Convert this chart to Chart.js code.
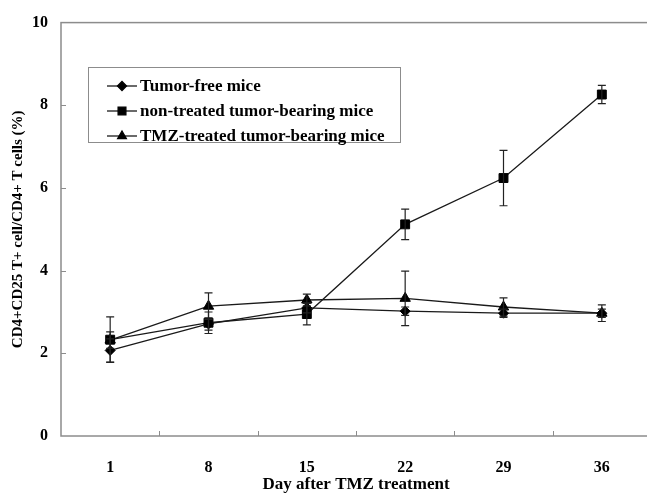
<!DOCTYPE html>
<html>
<head>
<meta charset="utf-8">
<script src="https://cdn.jsdelivr.net/npm/chart.js@4/dist/chart.umd.min.js"></script>
<style>
html,body{margin:0;padding:0;background:#fff;overflow:hidden;}
#wrap{width:660px;height:495px;}
</style>
</head>
<body>
<div id="wrap"><canvas id="c" width="660" height="495"></canvas></div>
<script>
const days = ['1','8','15','22','29','36'];
const yTicks = [0,2,4,6,8,10];
const tumorFree = [2.07, 2.71, 3.10, 3.02, 2.97, 2.97];
const tumorFreeErr = [0.28, 0.15, 0.12, 0.10, 0.10, 0.10];
const nonTreated = [2.33, 2.74, 2.95, 5.12, 6.24, 8.26];
const nonTreatedErr = [0.55, 0.26, 0.26, 0.37, 0.67, 0.22];
const tmzTreated = [2.32, 3.14, 3.29, 3.33, 3.12, 2.97];
const tmzTreatedErr = [0.20, 0.32, 0.14, 0.66, 0.22, 0.20];
const labels = ['Tumor-free mice','non-treated tumor-bearing mice','TMZ-treated tumor-bearing mice'];

const FONT = '"Liberation Serif","Times New Roman",serif';
const AXIS = '#8c8c8c';
const INK = '#1a1a1a';

const errPlugin = {
  id:'err',
  afterDatasetsDraw(chart){
    const ctx = chart.ctx, ys = chart.scales.y;
    ctx.save();
    ctx.strokeStyle = '#222'; ctx.lineWidth = 1.2;
    chart.data.datasets.forEach((ds, di) => {
      const meta = chart.getDatasetMeta(di);
      ds.errors.forEach((e, i) => {
        const p = meta.data[i]; if(!p) return;
        const v = ds.data[i];
        const y1 = ys.getPixelForValue(v + e), y2 = ys.getPixelForValue(v - e);
        const x = p.x, c = 4;
        ctx.beginPath();
        ctx.moveTo(x, y1); ctx.lineTo(x, y2);
        ctx.moveTo(x - c, y1); ctx.lineTo(x + c, y1);
        ctx.moveTo(x - c, y2); ctx.lineTo(x + c, y2);
        ctx.stroke();
      });
    });
    ctx.restore();
  }
};

const framePlugin = {
  id:'frame',
  afterDraw(chart){
    const ctx = chart.ctx, a = chart.chartArea, xs = chart.scales.x, ys = chart.scales.y;
    ctx.save();
    ctx.strokeStyle = AXIS; ctx.lineWidth = 1.5;
    ctx.strokeRect(a.left, a.top, a.right - a.left, a.bottom - a.top);
    ctx.lineWidth = 1;
    ctx.beginPath();
    yTicks.forEach(t => {
      if (t === 0 || t === 10) return;
      const y = Math.round(ys.getPixelForValue(t)) + 0.5;
      ctx.moveTo(a.left, y); ctx.lineTo(a.left + 5, y);
    });
    for (let i = 0; i < days.length - 1; i++) {
      const x = Math.round((xs.getPixelForTick(i) + xs.getPixelForTick(i + 1)) / 2) + 0.5;
      ctx.moveTo(x, a.bottom); ctx.lineTo(x, a.bottom - 5);
    }
    ctx.stroke();

    // legend box
    const bx = 88, by = 67, bw = 312, bh = 75;
    ctx.strokeStyle = '#8c8c8c'; ctx.lineWidth = 1;
    ctx.strokeRect(bx + 0.5, by + 0.5, bw, bh);
    ctx.font = 'bold 17px ' + FONT;
    ctx.textBaseline = 'middle';
    ctx.textAlign = 'left';
    const rows = [86, 111, 136];
    chart.data.datasets.forEach((ds, i) => {
      const y = rows[i];
      ctx.strokeStyle = INK; ctx.lineWidth = 1.3;
      ctx.beginPath(); ctx.moveTo(107, y); ctx.lineTo(137, y); ctx.stroke();
      ctx.fillStyle = '#000'; ctx.strokeStyle = '#000';
      Chart.helpers.drawPoint(ctx, {pointStyle: ds.pointStyle, radius: ds.legendRadius, rotation: 0, borderWidth: 1}, 122, y);
      ctx.fillStyle = '#000';
      ctx.fillText(ds.label, 140, y + 1);
    });
    ctx.restore();
  }
};

const mk = (label, data, errors, style, r, lr) => ({
  label, data, errors,
  borderColor: INK, borderWidth: 1.3,
  pointStyle: style, pointRadius: r, pointHoverRadius: r,
  pointBackgroundColor: '#000', pointBorderColor: '#000', pointBorderWidth: 1,
  legendRadius: lr, tension: 0, fill: false
});

new Chart(document.getElementById('c'), {
  type: 'line',
  data: {
    labels: days,
    datasets: [
      mk(labels[0], tumorFree, tumorFreeErr, 'rectRot', 5, 4.5),
      mk(labels[1], nonTreated, nonTreatedErr, 'rect', 6.3, 5.5),
      mk(labels[2], tmzTreated, tmzTreatedErr, 'triangle', 6, 5)
    ]
  },
  options: {
    responsive: false,
    animation: false,
    layout: { padding: { top: 16, right: 9, left: 0, bottom: 0 } },
    plugins: { legend: { display: false }, tooltip: { enabled: false } },
    scales: {
      x: {
        type: 'category',
        offset: true,
        grid: { display: false, drawTicks: false },
        border: { display: false },
        ticks: { color: '#000', font: { family: FONT, size: 16, weight: 'bold' }, padding: 22, maxRotation: 0 },
        title: { display: true, text: 'Day after TMZ treatment', color: '#000',
                 font: { family: FONT, size: 17, weight: 'bold' }, padding: { top: 0, bottom: 0 } },
        afterFit(s){ s.height = 59; }
      },
      y: {
        min: 0, max: 10,
        afterBuildTicks(s){ s.ticks = yTicks.map(v => ({ value: v })); },
        grid: { display: false, drawTicks: false },
        border: { display: false },
        ticks: { color: '#000', font: { family: FONT, size: 16, weight: 'bold' }, padding: 13 },
        title: { display: true, text: 'CD4+CD25 T+ cell/CD4+ T cells (%)', color: '#000',
                 font: { family: FONT, size: 15, weight: 'bold' }, padding: { top: 9, bottom: 0 } },
        afterFit(s){ s.width = 61; }
      }
    }
  },
  plugins: [errPlugin, framePlugin]
});
</script>
</body>
</html>
